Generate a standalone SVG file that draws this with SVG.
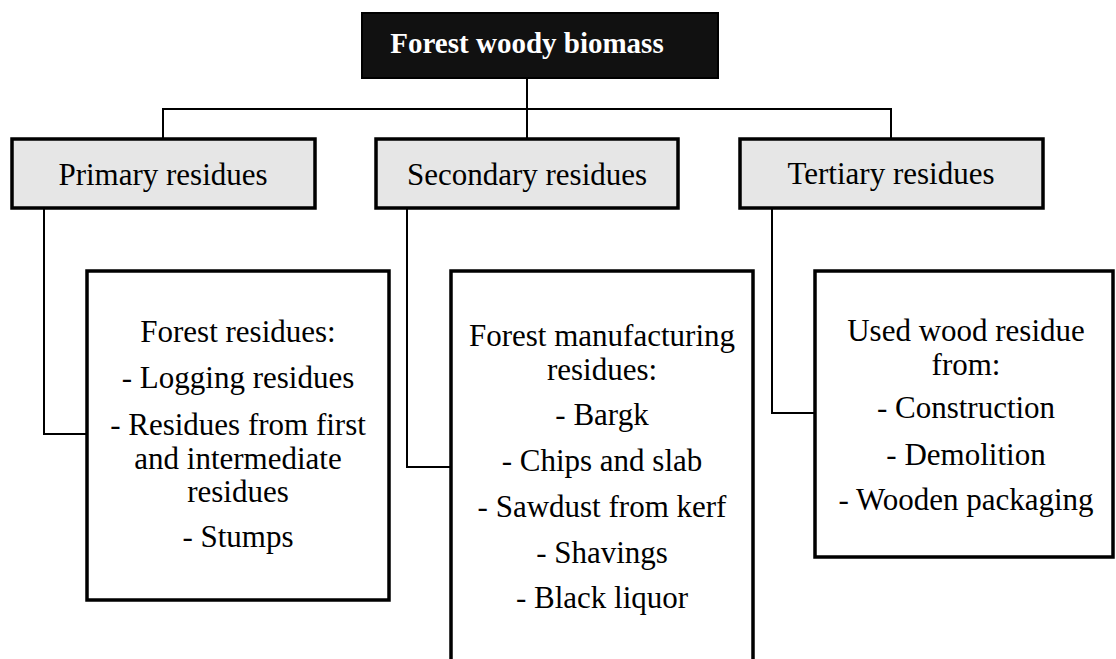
<svg xmlns="http://www.w3.org/2000/svg" width="1116" height="659" viewBox="0 0 1116 659">
<style>
  .conn { fill: none; stroke: #000; stroke-width: 2; }
  .head { fill: #e6e6e6; stroke: #000; stroke-width: 3.5; }
  .detail { fill: #fff; stroke: #000; stroke-width: 3.5; }
  .root { fill: #111; stroke: #000; stroke-width: 2; }
  text { font-family: "Liberation Serif", "Times New Roman", serif; font-size: 31px; fill: #000; text-anchor: middle; }
  .title { font-weight: bold; font-size: 29px; fill: #fff; }
</style>
<rect width="1116" height="659" fill="#fff"/>
<g id="connectors">
  <path class="conn" d="M527 78 V139"/>
  <path class="conn" d="M163 139 V109 H891 V139"/>
  <path class="conn" d="M44 208 V434 H87"/>
  <path class="conn" d="M407 208 V467 H451"/>
  <path class="conn" d="M772 208 V413 H815"/>
</g>
<g id="root">
  <rect class="root" x="362" y="13" width="356" height="65"/>
  <text class="title" x="527" y="53">Forest woody biomass</text>
</g>
<g id="primary">
  <rect class="head" x="12" y="139" width="303" height="69"/>
  <text x="163" y="185">Primary residues</text>
</g>
<g id="secondary">
  <rect class="head" x="376" y="139" width="302" height="69"/>
  <text x="527" y="185">Secondary residues</text>
</g>
<g id="tertiary">
  <rect class="head" x="740" y="139" width="303" height="69"/>
  <text x="891" y="184">Tertiary residues</text>
</g>
<g id="primary-detail">
  <rect class="detail" x="87" y="271" width="302" height="329"/>
  <text x="238" y="342">Forest residues:</text>
  <text x="238" y="388">- Logging residues</text>
  <text x="238" y="435">- Residues from first</text>
  <text x="238" y="469">and intermediate</text>
  <text x="238" y="502">residues</text>
  <text x="238" y="547">- Stumps</text>
</g>
<g id="secondary-detail">
  <rect class="detail" x="451" y="271" width="302" height="400"/>
  <text x="602" y="346">Forest manufacturing</text>
  <text x="602" y="380">residues:</text>
  <text x="602" y="425">- Bargk</text>
  <text x="602" y="471">- Chips and slab</text>
  <text x="602" y="517">- Sawdust from kerf</text>
  <text x="602" y="563">- Shavings</text>
  <text x="602" y="608">- Black liquor</text>
</g>
<g id="tertiary-detail">
  <rect class="detail" x="815" y="271" width="298" height="286"/>
  <text x="966" y="341">Used wood residue</text>
  <text x="966" y="375">from:</text>
  <text x="966" y="418">- Construction</text>
  <text x="966" y="465">- Demolition</text>
  <text x="966" y="510">- Wooden packaging</text>
</g>
</svg>
